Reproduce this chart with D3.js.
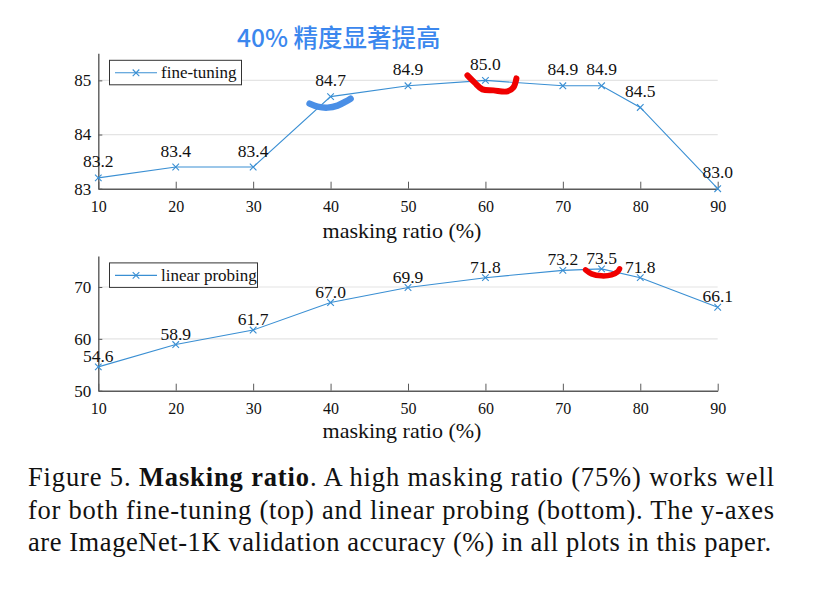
<!DOCTYPE html>
<html><head><meta charset="utf-8">
<script src="https://cdn.jsdelivr.net/npm/d3@7"></script>
<style>body{margin:0;background:#fff}svg{display:block}</style>
</head><body>
<svg id="c" width="822" height="596"></svg>
<script>
const ratios = [10, 20, 30, 40, 50, 60, 70, 75, 80, 90];
const fineTuning = [83.2, 83.4, 83.4, 84.7, 84.9, 85.0, 84.9, 84.9, 84.5, 83.0];
const linearProbing = [54.6, 58.9, 61.7, 67.0, 69.9, 71.8, 73.2, 73.5, 71.8, 66.1];
const xTicks = [10, 20, 30, 40, 50, 60, 70, 80, 90];
const ftTicks = [83, 84, 85];
const lpTicks = [50, 60, 70];
const seriesNames = ["fine-tuning", "linear probing"];
const xTitle = "masking ratio (%)";
const annotation = "40% 精度显著提高";
const captionLines = [
  [["Figure 5. ", false], ["Masking ratio", true], [". A high masking ratio (75%) works well", false]],
  [["for both fine-tuning (top) and linear probing (bottom). The y-axes", false]],
  [["are ImageNet-1K validation accuracy (%) in all plots in this paper.", false]]
];

const svg = d3.select("#c");
const serif = "Liberation Serif, Times New Roman, serif";
const blue = "#3a8fd3";
const axisCol = "#5a5a5a";

const x = d3.scaleLinear().domain([10, 90]).range([98.3, 717.7]);

function panel(vals, yDomain, yRange, ticks, name, legendW, labelOff, titleY) {
  const y = d3.scaleLinear().domain(yDomain).range(yRange);
  const g = svg.append("g");
  g.selectAll("line.grid").data(ticks.slice(1)).join("line")
    .attr("x1", x(10)).attr("x2", x(90)).attr("y1", d => y(d)).attr("y2", d => y(d))
    .attr("stroke", "#e4e4e4").attr("stroke-width", 1.2);
  const xa = g.append("g").attr("transform", `translate(0,${yRange[0]})`)
    .call(d3.axisBottom(x).tickValues(xTicks).tickSize(-7).tickPadding(12).tickSizeOuter(0));
  xa.attr("font-family", serif).attr("font-size", 16);
  xa.select(".domain").attr("stroke", axisCol).attr("stroke-width", 1.4);
  xa.selectAll(".tick line").attr("stroke", axisCol);
  xa.selectAll("text").attr("fill", "#111");
  const ya = g.append("g").attr("transform", `translate(${x(10)},0)`)
    .call(d3.axisLeft(y).tickValues(ticks).tickFormat(d3.format("d")).tickSize(-4).tickPadding(7).tickSizeOuter(0));
  ya.attr("font-family", serif).attr("font-size", 17);
  ya.select(".domain").attr("stroke", axisCol).attr("stroke-width", 1.4);
  ya.selectAll(".tick line").attr("stroke", axisCol);
  ya.selectAll("text").attr("fill", "#111");
  const line = d3.line().x((d, i) => x(ratios[i])).y(d => y(d));
  g.append("path").datum(vals).attr("d", line).attr("fill", "none")
    .attr("stroke", blue).attr("stroke-width", 1.1);
  const m = 3.3;
  g.selectAll("path.mk").data(vals).join("path")
    .attr("d", (d, i) => { const cx = x(ratios[i]), cy = y(d);
      return `M${cx-m},${cy-m}L${cx+m},${cy+m}M${cx-m},${cy+m}L${cx+m},${cy-m}`; })
    .attr("stroke", blue).attr("stroke-width", 1.1);
  g.selectAll("text.lbl").data(vals).join("text")
    .attr("x", (d, i) => x(ratios[i])).attr("y", d => y(d) - labelOff)
    .attr("text-anchor", "middle").attr("font-family", serif).attr("font-size", 17.5)
    .attr("fill", "#111").text(d => d.toFixed(1));
  const ly = yRange[1] + 7;
  g.append("rect").attr("x", 109.5).attr("y", ly).attr("width", legendW).attr("height", 24.5)
    .attr("fill", "#fff").attr("stroke", "#333").attr("stroke-width", 1);
  const lcy = ly + 12.5;
  g.append("line").attr("x1", 115).attr("x2", 157).attr("y1", lcy).attr("y2", lcy)
    .attr("stroke", blue).attr("stroke-width", 1.1);
  g.append("path").attr("d", `M${136-m},${lcy-m}L${136+m},${lcy+m}M${136-m},${lcy+m}L${136+m},${lcy-m}`)
    .attr("stroke", blue).attr("stroke-width", 1.1);
  g.append("text").attr("x", 161).attr("y", lcy + 5.5).attr("font-family", serif)
    .attr("font-size", 17).attr("fill", "#111").text(name);
  g.append("text").attr("x", 402).attr("y", titleY).attr("text-anchor", "middle")
    .attr("font-family", serif).attr("font-size", 22).attr("fill", "#111").text(xTitle);
  return y;
}

const yTop = panel(fineTuning, [83, 85.5], [188.7, 53.3], ftTicks, seriesNames[0], 132, 10.5, 238);
const yBot = panel(linearProbing, [50, 76], [390.7, 255.9], lpTicks, seriesNames[1], 148, 5, 438);

svg.append("text").attr("x", 237).attr("y", 47).attr("font-family", "Noto Sans CJK SC, Noto Sans, sans-serif")
  .attr("font-size", 24.5).attr("font-weight", 500).attr("fill", "#3b87ee").text(annotation);

const curve = d3.line().curve(d3.curveCatmullRom);
function stroke(px, py, offs, color, w) {
  svg.append("path").attr("d", curve(offs.map(o => [px + o[0], py + o[1]])))
    .attr("fill", "none").attr("stroke", color).attr("stroke-width", w)
    .attr("stroke-linecap", "round").attr("stroke-linejoin", "round");
}
const p40x = x(40), p40y = yTop(fineTuning[3]);
stroke(p40x, p40y, [[-21,7],[-13,10],[-3,11],[7,9],[15,5],[20,2]], "#4a8fe6", 6.5);
const p60x = x(60), p60y = yTop(fineTuning[5]);
stroke(p60x, p60y, [[-18,-5],[-11,2],[-3,9],[8,10],[22,11],[28,7],[31,-2]], "#f00000", 6);
const p75x = x(75), p75y = yBot(linearProbing[7]);
stroke(p75x, p75y, [[-16,1],[-10,5],[0,7],[10,6],[16,3],[18,0]], "#f00000", 5.5);

const capY = [486, 518.5, 551];
captionLines.forEach((parts, i) => {
  const t = svg.append("text").attr("x", 28).attr("y", capY[i]).attr("font-family", serif)
    .attr("font-size", 26.5).attr("fill", "#111")
    .attr("textLength", i === 2 ? 743 : 746).attr("lengthAdjust", "spacing");
  parts.forEach(p => t.append("tspan").attr("font-weight", p[1] ? "bold" : "normal").text(p[0]));
});
</script>
</body></html>
